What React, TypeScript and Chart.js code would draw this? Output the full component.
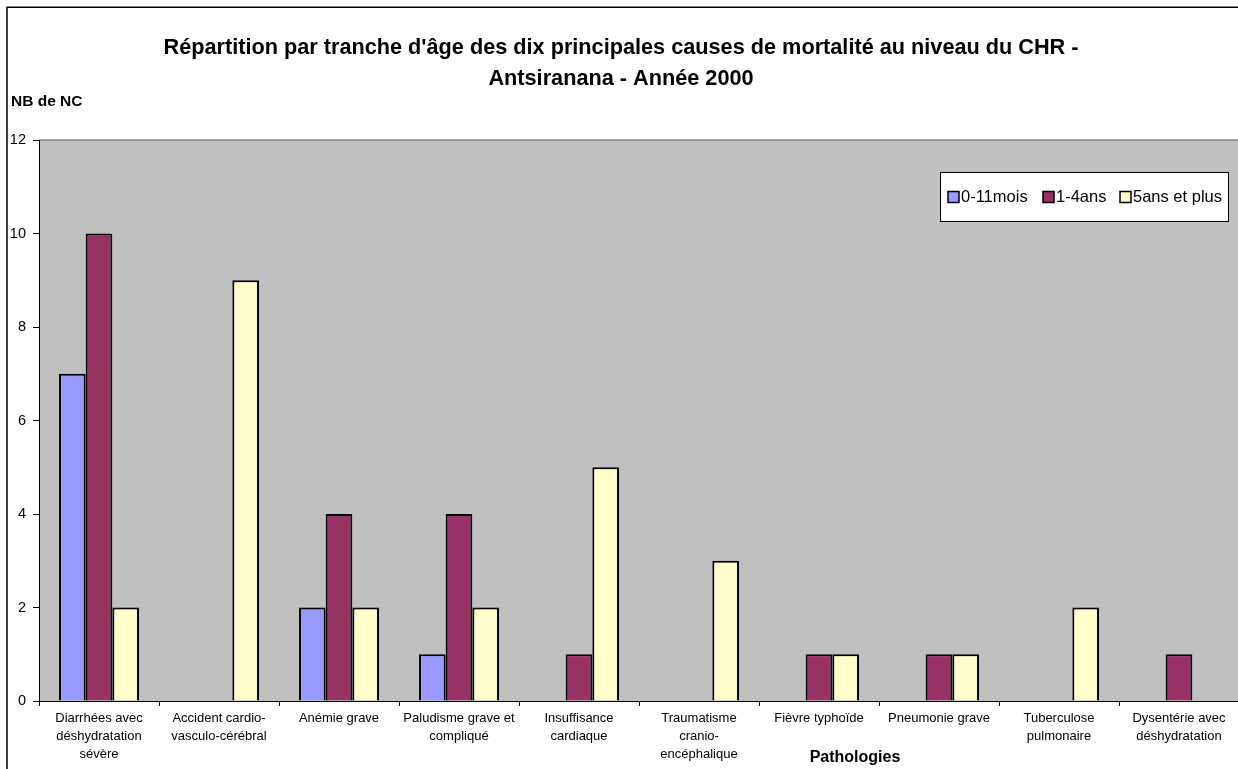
import React, { useEffect, useRef } from "react";
import { Chart, registerables } from "chart.js";

Chart.register(...registerables);

const categories: (string | string[])[] = [
  ["Diarrhées avec", "déshydratation", "sévère"],
  ["Accident cardio-", "vasculo-cérébral"],
  "Anémie grave",
  ["Paludisme grave et", "compliqué"],
  ["Insuffisance", "cardiaque"],
  ["Traumatisme", "cranio-", "encéphalique"],
  "Fièvre typhoïde",
  "Pneumonie grave",
  ["Tuberculose", "pulmonaire"],
  ["Dysentérie avec", "déshydratation"],
];

const seriesNames = ["0-11mois", "1-4ans", "5ans et plus"];
const infants: (number | null)[] = [7, null, 2, 1, null, null, null, null, null, null];
const toddlers: (number | null)[] = [10, null, 4, 4, 1, null, 1, 1, null, 1];
const olders: (number | null)[] = [2, 9, 2, 2, 5, 3, 1, 1, 2, null];
const seriesColors = ["#9999FF", "#993366", "#FFFFCC"];

const titleLines = [
  "Répartition par tranche d'âge des dix principales causes de mortalité au niveau du CHR -",
  "Antsiranana - Année 2000",
];
const yAxisTitle = "NB de NC";
const xAxisTitle = "Pathologies";
const yTicks = { min: 0, max: 12, step: 2 };

const FONT = "'Liberation Sans', Arial, sans-serif";

const decorPlugin = {
  id: "decor",
  beforeDraw(chart: any) {
    const { ctx, chartArea } = chart;
    ctx.save();
    ctx.fillStyle = "#FFFFFF";
    ctx.fillRect(0, 0, chart.width, chart.height);
    // outer border
    ctx.strokeStyle = "#000000";
    ctx.lineWidth = 1.5;
    ctx.beginPath();
    ctx.moveTo(7, chart.height + 5);
    ctx.lineTo(7, 7.25);
    ctx.lineTo(chart.width + 5, 7.25);
    ctx.stroke();
    // plot area
    ctx.fillStyle = "#C0C0C0";
    ctx.fillRect(chartArea.left, chartArea.top, chartArea.right - chartArea.left, chartArea.bottom - chartArea.top);
    ctx.strokeStyle = "#808080";
    ctx.lineWidth = 1.5;
    ctx.beginPath();
    ctx.moveTo(chartArea.left, chartArea.top);
    ctx.lineTo(chartArea.right, chartArea.top);
    ctx.stroke();
    // title
    ctx.fillStyle = "#000000";
    ctx.textAlign = "center";
    ctx.textBaseline = "middle";
    ctx.font = `bold 21.7px ${FONT}`;
    ctx.fillText(titleLines[0], 621, 48);
    ctx.fillText(titleLines[1], 621, 79);
    ctx.font = `bold 15.5px ${FONT}`;
    ctx.textAlign = "left";
    ctx.fillText(yAxisTitle, 11, 102);
    ctx.font = `bold 16px ${FONT}`;
    ctx.textAlign = "center";
    ctx.fillText(xAxisTitle, 855, 758);
    ctx.restore();
  },
  afterDraw(chart: any) {
    const { ctx } = chart;
    ctx.save();
    // legend box
    const bx = 940, by = 172, bw = 288, bh = 49;
    ctx.fillStyle = "#FFFFFF";
    ctx.fillRect(bx, by, bw, bh);
    ctx.strokeStyle = "#000000";
    ctx.lineWidth = 1;
    ctx.strokeRect(bx + 0.5, by + 0.5, bw, bh);
    const itemX = [948, 1043, 1120];
    ctx.font = `16.5px ${FONT}`;
    ctx.textBaseline = "middle";
    ctx.textAlign = "left";
    chart.data.datasets.forEach((ds: any, i: number) => {
      const x = itemX[i];
      const cy = 197;
      ctx.fillStyle = ds.backgroundColor;
      ctx.fillRect(x, cy - 5.5, 11, 11);
      ctx.strokeStyle = "#000000";
      ctx.lineWidth = 1.5;
      ctx.strokeRect(x, cy - 5.5, 11, 11);
      ctx.fillStyle = "#000000";
      ctx.fillText(ds.label, x + 13, cy);
    });
    ctx.restore();
  },
};

export default function App() {
  const ref = useRef<HTMLCanvasElement>(null);
  useEffect(() => {
    if (!ref.current) return;
    const seriesData = [infants, toddlers, olders];
    const chart = new Chart(ref.current, {
      type: "bar",
      data: {
        labels: categories,
        datasets: seriesNames.map((name, i) => ({
          label: name,
          data: seriesData[i],
          backgroundColor: seriesColors[i],
          borderColor: "#000000",
          borderWidth: 2,
          categoryPercentage: 0.667,
          barPercentage: 1,
        })),
      },
      options: {
        responsive: false,
        animation: false,
        layout: { padding: { top: 140, left: 0, right: 21, bottom: 0 } },
        plugins: { legend: { display: false }, tooltip: { enabled: false }, title: { display: false } },
        scales: {
          x: {
            afterFit: (s: any) => { s.height = 68; },
            grid: { drawOnChartArea: false, drawTicks: true, tickLength: 5, color: "#000000", offset: true },
            border: { color: "#000000", width: 1 },
            ticks: { color: "#000000", font: { family: FONT, size: 13, lineHeight: 1.37 }, padding: 4, maxRotation: 0, autoSkip: false },
          },
          y: {
            min: yTicks.min,
            max: yTicks.max,
            afterFit: (s: any) => { s.width = 39; },
            grid: { drawOnChartArea: false, drawTicks: true, tickLength: 6, color: "#000000" },
            border: { color: "#000000", width: 1 },
            ticks: { stepSize: yTicks.step, color: "#000000", font: { family: FONT, size: 14.5 }, padding: 7 },
          },
        },
      },
      plugins: [decorPlugin],
    });
    return () => chart.destroy();
  }, []);
  return (
    <div style={{ position: "fixed", left: 0, top: 0, width: 1238, height: 769, overflow: "hidden", background: "#fff" }}>
      <canvas ref={ref} width={1260} height={769} style={{ display: "block" }} />
    </div>
  );
}
